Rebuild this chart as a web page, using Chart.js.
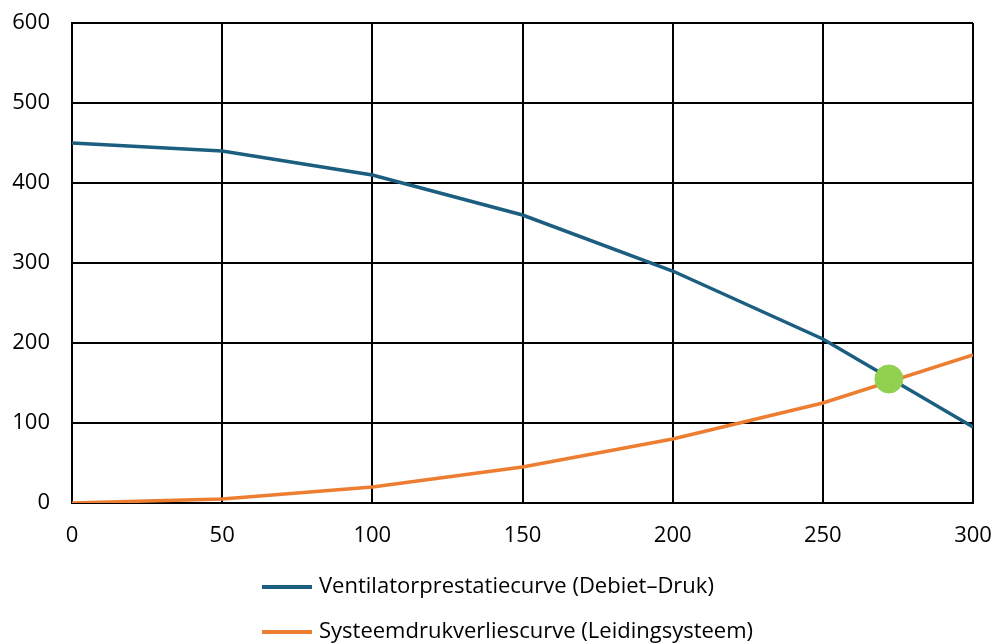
<!DOCTYPE html>
<html>
<head>
<meta charset="utf-8">
<script src="https://cdn.jsdelivr.net/npm/chart.js@4/dist/chart.umd.min.js"></script>
<style>
  html, body { margin: 0; padding: 0; background: #fff; }
  #wrap { width: 994px; height: 643px; position: relative; }
</style>
</head>
<body>
<div id="wrap"><canvas id="fanChart"></canvas></div>
<script>
// Chart data
var flowValues = [0, 50, 100, 150, 200, 250, 300];
var fanPressure = [450, 440, 410, 360, 290, 205, 95];
var systemPressure = [0, 5, 20, 45, 80, 125, 185];
var operatingPoint = { x: 272, y: 155 };
var xTicks = [0, 50, 100, 150, 200, 250, 300];
var yTicks = [0, 100, 200, 300, 400, 500, 600];
var seriesLabels = ['Ventilatorprestatiecurve (Debiet\u2013Druk)', 'Systeemdrukverliescurve (Leidingsysteem)'];

var fontFamily = '"Open Sans", sans-serif';

function toPoints(ys) {
    return flowValues.map(function(x, i) { return { x: x, y: ys[i] }; });
}

// Vertical legend under the plot, left-aligned like the original
var stackedLegend = {
    id: 'stackedLegend',
    afterDraw: function(chart) {
        var ctx = chart.ctx;
        var items = chart.data.datasets.filter(function(d) { return !d.hideInLegend; });
        ctx.save();
        ctx.font = '22px ' + fontFamily;
        ctx.textBaseline = 'middle';
        items.forEach(function(d, i) {
            var y = 587 + i * 45;
            ctx.strokeStyle = d.borderColor;
            ctx.lineWidth = 4;
            ctx.beginPath();
            ctx.moveTo(262, y);
            ctx.lineTo(312, y);
            ctx.stroke();
            ctx.fillStyle = '#000';
            ctx.fillText(d.label, 319, y);
        });
        ctx.restore();
    }
};

var ctx = document.getElementById('fanChart').getContext('2d');
new Chart(ctx, {
    type: 'line',
    data: {
        datasets: [
            {
                label: seriesLabels[0],
                data: toPoints(fanPressure),
                borderColor: '#1b5e80',
                borderWidth: 3.5,
                pointRadius: 0,
                tension: 0,
                fill: false,
                order: 2
            },
            {
                label: seriesLabels[1],
                data: toPoints(systemPressure),
                borderColor: '#ed7d31',
                borderWidth: 3.5,
                pointRadius: 0,
                tension: 0,
                fill: false,
                order: 3
            },
            {
                type: 'scatter',
                label: 'Werkpunt',
                hideInLegend: true,
                data: [operatingPoint],
                backgroundColor: '#92d050',
                borderColor: '#92d050',
                pointRadius: 14,
                order: 1
            }
        ]
    },
    options: {
        responsive: true,
        maintainAspectRatio: false,
        animation: false,
        layout: { padding: { top: 23, right: 21, bottom: 0, left: 0 } },
        plugins: {
            legend: { display: false },
            tooltip: { enabled: false }
        },
        scales: {
            x: {
                type: 'linear',
                min: 0,
                max: 300,
                afterBuildTicks: function(axis) { axis.ticks = xTicks.map(function(v) { return { value: v }; }); },
                afterFit: function(axis) { axis.height = 140; axis.paddingLeft = 0; axis.paddingRight = 0; },
                grid: { color: '#000', lineWidth: 2, drawTicks: false },
                border: { color: '#000', width: 2 },
                ticks: { color: '#000', padding: 20, font: { size: 22, family: fontFamily } }
            },
            y: {
                min: 0,
                max: 600,
                afterBuildTicks: function(axis) { axis.ticks = yTicks.map(function(v) { return { value: v }; }); },
                afterFit: function(axis) { axis.width = 72; axis.paddingTop = 0; axis.paddingBottom = 0; },
                grid: { color: '#000', lineWidth: 2, drawTicks: false },
                border: { color: '#000', width: 2 },
                ticks: { color: '#000', padding: 22, font: { size: 22, family: fontFamily } }
            }
        }
    },
    plugins: [stackedLegend]
});
</script>
</body>
</html>
